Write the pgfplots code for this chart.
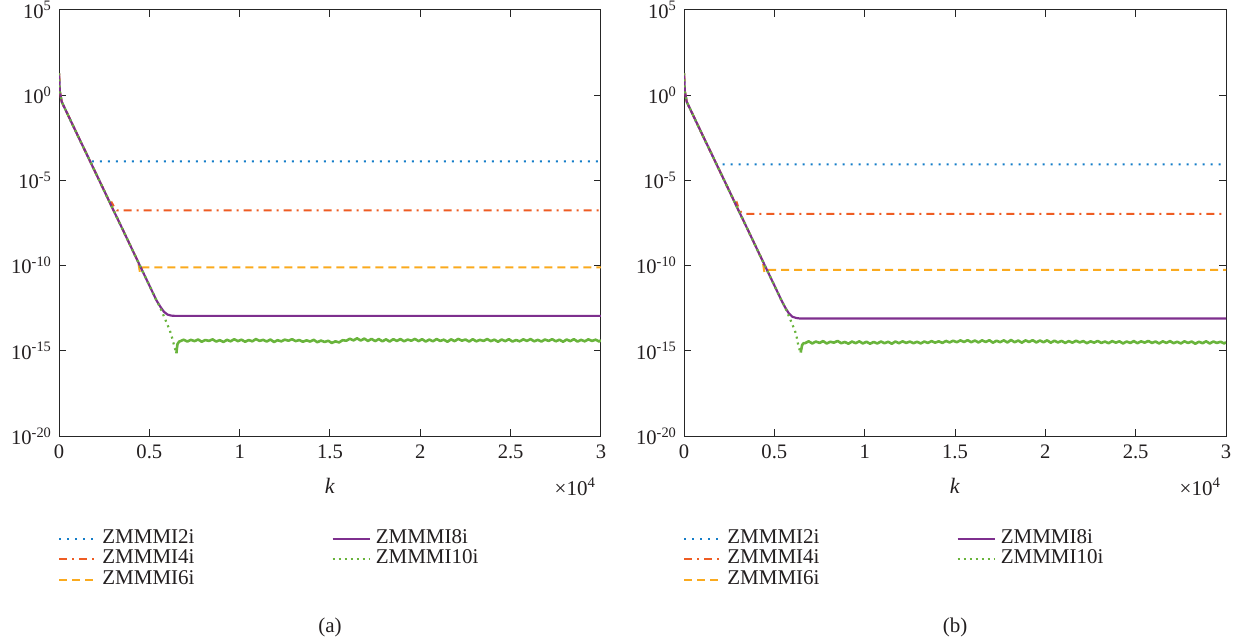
\documentclass[border=0pt]{standalone}
\usepackage{fontspec}
\setmainfont{Liberation Serif}
\usepackage{pgfplots}
\pgfplotsset{compat=1.18}
\definecolor{cB}{RGB}{20,125,200}
\definecolor{cO}{RGB}{238,92,35}
\definecolor{cY}{RGB}{250,170,30}
\definecolor{cP}{RGB}{126,47,142}
\definecolor{cG}{RGB}{105,180,60}
\definecolor{txt}{RGB}{35,31,32}
\tikzset{
  sB/.style={cB, line width=1pt, dash pattern=on 1pt off 3pt},
  sO/.style={cO, line width=1pt, dash pattern=on 4pt off 2.5pt on 1pt off 2.5pt},
  sY/.style={cY, line width=1pt, dash pattern=on 4pt off 2.5pt},
  sP/.style={cP, line width=1.1pt, solid},
  sG/.style={cG, line width=1.1pt, dash pattern=on 1pt off 2pt},
  sGn/.style={cG, line width=1.3pt, solid, line join=round},
}
\pgfplotsset{legend image code/.code={\draw[#1] (0pt,0pt) -- (18.5pt,0pt);}}
\pgfplotsset{
  every axis/.append style={
    scale only axis, width=271pt, height=213pt, anchor=south west,
    xmin=0, xmax=30000, ymin=1e-20, ymax=1e5,
    scaled x ticks=false,
    xtick={0,5000,10000,15000,20000,25000,30000},
    xticklabels={0,0.5,1,1.5,2,2.5,3},
    ytick={1e-20,1e-15,1e-10,1e-5,1,1e5},
    yticklabels={10\textsuperscript{-20},10\textsuperscript{-15},10\textsuperscript{-10},10\textsuperscript{-5},10\textsuperscript{0},10\textsuperscript{5}},
    yminorticks=false, xminorticks=false,
    tick align=inside, major tick length=3.5pt,
    axis line style={line width=0.5pt, black!85},
    every tick/.style={black!85, line width=0.5pt},
    tick label style={font=\fontsize{10.3}{12}\selectfont, text=txt},
    xticklabel style={yshift=-1pt},
    xlabel style={at={(rel axis cs:0.5,0)}, anchor=center, yshift=-25pt, font=\fontsize{11}{13}\selectfont, text=txt},
    legend columns=2,
    legend cell align=left,
    legend style={draw=none, fill=none, at={(rel axis cs:0,0)}, anchor=north west,
      yshift=-46pt, xshift=-0.5pt, inner sep=0pt, row sep=0pt,
      font=\fontsize{10.5}{12}\selectfont, text=txt,
      nodes={inner sep=1pt, text height=6.5pt, text depth=1.75pt},
      /tikz/column 1/.style={column sep=1.5pt},
      /tikz/column 2/.style={column sep=67.5pt},
      /tikz/column 3/.style={column sep=1.5pt}},
  }
}
\begin{document}
\begin{tikzpicture}
\path[use as bounding box] (0,0) rectangle (621.5pt,319.5pt);
% ---------------- (a) ----------------
\begin{semilogyaxis}[name=A, at={(29.5pt,101.5pt)}, xlabel={\textit{k}}]
\addplot[sB, forget plot] coordinates {(0,19) (50,1.6) (150,0.41) (500,6.8e-2) (1000,5.2e-3) (1500,4.1e-4) (1700,1.5e-4) (1760,1.32e-4) (30000,1.32e-4)};
\addplot[sO, forget plot] coordinates {(0,19) (50,1.6) (150,0.41) (500,6.8e-2) (1000,5.2e-3) (1500,4.1e-4) (2000,3.2e-5) (2500,2.5e-6) (2850,4.1e-7) (2920,5.0e-7) (3000,3.5e-7) (3100,2.2e-7) (3200,1.74e-7) (30000,1.74e-7)};
\addplot[sY, forget plot] coordinates {(0,19) (50,1.6) (150,0.41) (500,6.8e-2) (1000,5.2e-3) (1500,4.1e-4) (2000,3.2e-5) (2500,2.5e-6) (3000,1.9e-7) (3500,1.5e-8) (4000,1.15e-9) (4380,1.7e-10) (4480,4.0e-11) (4550,6.3e-11) (4650,7.9e-11) (30000,7.9e-11)};
\addplot[sP, forget plot] coordinates {(0,19) (50,1.6) (150,0.41) (500,6.8e-2) (1000,5.2e-3) (1500,4.1e-4) (2000,3.2e-5) (2500,2.5e-6) (3000,1.9e-7) (3500,1.5e-8) (4000,1.15e-9) (4500,8.9e-11) (5000,6.9e-12) (5400,8.9e-13) (5600,4.0e-13) (5800,2.0e-13) (6000,1.35e-13) (6200,1.17e-13) (6400,1.12e-13) (30000,1.12e-13)};
\addplot[sG, forget plot] coordinates {(0,19) (50,1.6) (150,0.41) (500,6.8e-2) (1000,5.2e-3) (1500,4.1e-4) (2000,3.2e-5) (2500,2.5e-6) (3000,1.9e-7) (3500,1.5e-8) (4000,1.15e-9) (4500,8.9e-11) (5000,6.9e-12) (5400,8.9e-13) (5600,3.5e-13) (5800,1.1e-13) (6000,3.5e-14) (6200,1.0e-14) (6400,1.6e-15) (6500,7.1e-16)};
\addplot[sGn, forget plot] coordinates {(6500,7.1e-16) (6520,1.26e-15) (6560,2.5e-15) (6650,3.5e-15)
(6700,3.6e-15) (6900,4.5e-15) (7100,3.5e-15) (7300,4.4e-15) (7500,3.7e-15) (7700,4.6e-15) (7900,3.4e-15) (8100,4.3e-15) (8300,3.8e-15) (8500,4.7e-15)
(8700,3.5e-15) (8900,4.2e-15) (9100,3.3e-15) (9300,4.4e-15) (9500,3.6e-15) (9700,4.8e-15) (9900,3.7e-15) (10100,4.5e-15) (10300,3.4e-15) (10500,4.3e-15)
(10700,3.6e-15) (10900,4.9e-15) (11100,3.8e-15) (11300,4.4e-15) (11500,3.5e-15) (11700,4.6e-15) (11900,3.3e-15) (12100,4.2e-15) (12300,3.6e-15) (12500,4.5e-15)
(12700,3.9e-15) (12900,4.8e-15) (13100,3.7e-15) (13300,4.3e-15) (13500,3.4e-15) (13700,4.1e-15) (13900,3.5e-15) (14100,4.4e-15) (14300,3.2e-15) (14500,4.0e-15)
(14700,3.3e-15) (14900,3.9e-15) (15100,2.9e-15) (15300,3.6e-15) (15500,3.1e-15) (15700,4.2e-15) (15900,3.9e-15) (16100,5.1e-15) (16300,4.1e-15) (16500,5.4e-15)
(16700,4.0e-15) (16900,5.2e-15) (17100,3.8e-15) (17300,5.0e-15) (17500,3.7e-15) (17700,4.9e-15) (17900,3.6e-15) (18100,4.7e-15) (18300,3.5e-15) (18500,4.8e-15)
(18700,3.8e-15) (18900,4.9e-15) (19100,3.6e-15) (19300,4.6e-15) (19500,3.9e-15) (19700,5.0e-15) (19900,3.7e-15) (20100,4.8e-15) (20300,3.5e-15) (20500,4.6e-15)
(20700,3.6e-15) (20900,4.9e-15) (21100,3.8e-15) (21300,4.5e-15) (21500,3.4e-15) (21700,4.7e-15) (21900,3.7e-15) (22100,5.0e-15) (22300,3.9e-15) (22500,4.6e-15)
(22700,3.5e-15) (22900,4.8e-15) (23100,3.6e-15) (23300,4.4e-15) (23500,3.8e-15) (23700,4.9e-15) (23900,3.7e-15) (24100,4.5e-15) (24300,3.4e-15) (24500,4.6e-15)
(24700,3.7e-15) (24900,4.8e-15) (25100,3.5e-15) (25300,4.3e-15) (25500,3.6e-15) (25700,4.7e-15) (25900,3.8e-15) (26100,4.9e-15) (26300,3.6e-15) (26500,4.4e-15)
(26700,3.5e-15) (26900,4.6e-15) (27100,3.8e-15) (27300,4.8e-15) (27500,3.6e-15) (27700,4.5e-15) (27900,3.4e-15) (28100,4.6e-15) (28300,3.7e-15) (28500,4.8e-15)
(28700,3.5e-15) (28900,4.4e-15) (29100,3.6e-15) (29300,4.7e-15) (29500,3.8e-15) (29700,4.5e-15) (29900,3.5e-15) (30000,4.2e-15)};
\addlegendimage{sB}\addlegendentry{ZMMMI2i}
\addlegendimage{sP}\addlegendentry{ZMMMI8i}
\addlegendimage{sO}\addlegendentry{ZMMMI4i}
\addlegendimage{sG}\addlegendentry{ZMMMI10i}
\addlegendimage{sY}\addlegendentry{ZMMMI6i}
\end{semilogyaxis}
\node[anchor=east, text=txt, font=\fontsize{10.5}{12}\selectfont] at ([xshift=1pt, yshift=-25.5pt]A.south east) {×10\textsuperscript{4}};
\node[text=txt, font=\fontsize{10.5}{12}\selectfont] at ([yshift=-95.5pt]A.south) {(a)};
% ---------------- (b) ----------------
\begin{semilogyaxis}[name=B, at={(342pt,101.5pt)}, xlabel={\textit{k}}]
\addplot[sB, forget plot] coordinates {(0,19) (50,1.6) (150,0.41) (500,6.8e-2) (1000,5.2e-3) (1500,4.1e-4) (1700,1.5e-4) (1800,8.7e-5) (30000,8.7e-5)};
\addplot[sO, forget plot] coordinates {(0,19) (50,1.6) (150,0.41) (500,6.8e-2) (1000,5.2e-3) (1500,4.1e-4) (2000,3.2e-5) (2500,2.5e-6) (2850,4.1e-7) (2920,5.0e-7) (3000,2.8e-7) (3150,1.4e-7) (3300,1.1e-7) (30000,1.1e-7)};
\addplot[sY, forget plot] coordinates {(0,19) (50,1.6) (150,0.41) (500,6.8e-2) (1000,5.2e-3) (1500,4.1e-4) (2000,3.2e-5) (2500,2.5e-6) (3000,1.9e-7) (3500,1.5e-8) (4000,1.15e-9) (4350,1.9e-10) (4450,4.0e-11) (4550,5.2e-11) (4650,5.6e-11) (30000,5.6e-11)};
\addplot[sP, forget plot] coordinates {(0,19) (50,1.6) (150,0.41) (500,6.8e-2) (1000,5.2e-3) (1500,4.1e-4) (2000,3.2e-5) (2500,2.5e-6) (3000,1.9e-7) (3500,1.5e-8) (4000,1.15e-9) (4500,8.9e-11) (5000,6.9e-12) (5400,8.9e-13) (5600,3.5e-13) (5800,1.6e-13) (6000,1.0e-13) (6200,8.5e-14) (6400,7.9e-14) (30000,7.9e-14)};
\addplot[sG, forget plot] coordinates {(0,19) (50,1.6) (150,0.41) (500,6.8e-2) (1000,5.2e-3) (1500,4.1e-4) (2000,3.2e-5) (2500,2.5e-6) (3000,1.9e-7) (3500,1.5e-8) (4000,1.15e-9) (4500,8.9e-11) (5000,6.9e-12) (5400,8.9e-13) (5600,3.5e-13) (5800,1.1e-13) (6000,3.5e-14) (6200,1.0e-14) (6350,1.6e-15) (6460,7.9e-16)};
\addplot[sGn, forget plot] coordinates {(6460,7.9e-16) (6490,1.2e-15) (6540,2.2e-15) (6620,2.8e-15)
(6700,2.8e-15) (6900,3.6e-15) (7100,2.7e-15) (7300,3.5e-15) (7500,2.9e-15) (7700,3.7e-15) (7900,2.7e-15) (8100,3.4e-15) (8300,3.0e-15) (8500,3.8e-15)
(8700,2.8e-15) (8900,3.3e-15) (9100,2.6e-15) (9300,3.5e-15) (9500,2.8e-15) (9700,3.6e-15) (9900,2.7e-15) (10100,3.4e-15) (10300,2.6e-15) (10500,3.3e-15)
(10700,2.7e-15) (10900,3.5e-15) (11100,2.8e-15) (11300,3.4e-15) (11500,2.6e-15) (11700,3.5e-15) (11900,2.8e-15) (12100,3.6e-15) (12300,2.9e-15) (12500,3.5e-15)
(12700,2.8e-15) (12900,3.4e-15) (13100,2.7e-15) (13300,3.5e-15) (13500,2.9e-15) (13700,3.7e-15) (13900,3.0e-15) (14100,3.6e-15) (14300,2.9e-15) (14500,3.8e-15)
(14700,3.1e-15) (14900,3.9e-15) (15100,3.2e-15) (15300,4.1e-15) (15500,3.3e-15) (15700,4.2e-15) (15900,3.2e-15) (16100,4.0e-15) (16300,3.1e-15) (16500,4.1e-15)
(16700,3.3e-15) (16900,4.2e-15) (17100,3.0e-15) (17300,3.9e-15) (17500,3.2e-15) (17700,4.1e-15) (17900,3.1e-15) (18100,4.3e-15) (18300,3.2e-15) (18500,4.0e-15)
(18700,3.0e-15) (18900,4.1e-15) (19100,3.3e-15) (19300,4.2e-15) (19500,3.1e-15) (19700,4.0e-15) (19900,3.2e-15) (20100,4.1e-15) (20300,3.0e-15) (20500,3.9e-15)
(20700,3.1e-15) (20900,3.8e-15) (21100,2.9e-15) (21300,3.7e-15) (21500,3.0e-15) (21700,3.9e-15) (21900,3.1e-15) (22100,3.7e-15) (22300,2.8e-15) (22500,3.6e-15)
(22700,3.0e-15) (22900,3.8e-15) (23100,2.9e-15) (23300,3.5e-15) (23500,2.8e-15) (23700,3.7e-15) (23900,3.0e-15) (24100,3.6e-15) (24300,2.7e-15) (24500,3.5e-15)
(24700,2.9e-15) (24900,3.7e-15) (25100,2.8e-15) (25300,3.6e-15) (25500,3.0e-15) (25700,3.8e-15) (25900,2.9e-15) (26100,3.5e-15) (26300,2.7e-15) (26500,3.6e-15)
(26700,2.9e-15) (26900,3.7e-15) (27100,2.8e-15) (27300,3.4e-15) (27500,2.7e-15) (27700,3.6e-15) (27900,2.9e-15) (28100,3.5e-15) (28300,2.6e-15) (28500,3.4e-15)
(28700,2.8e-15) (28900,3.6e-15) (29100,2.7e-15) (29300,3.5e-15) (29500,2.9e-15) (29700,3.4e-15) (29900,2.7e-15) (30000,3.2e-15)};
\addlegendimage{sB}\addlegendentry{ZMMMI2i}
\addlegendimage{sP}\addlegendentry{ZMMMI8i}
\addlegendimage{sO}\addlegendentry{ZMMMI4i}
\addlegendimage{sG}\addlegendentry{ZMMMI10i}
\addlegendimage{sY}\addlegendentry{ZMMMI6i}
\end{semilogyaxis}
\node[anchor=east, text=txt, font=\fontsize{10.5}{12}\selectfont] at ([xshift=1pt, yshift=-25.5pt]B.south east) {×10\textsuperscript{4}};
\node[text=txt, font=\fontsize{10.5}{12}\selectfont] at ([yshift=-95.5pt]B.south) {(b)};
\end{tikzpicture}
\end{document}
